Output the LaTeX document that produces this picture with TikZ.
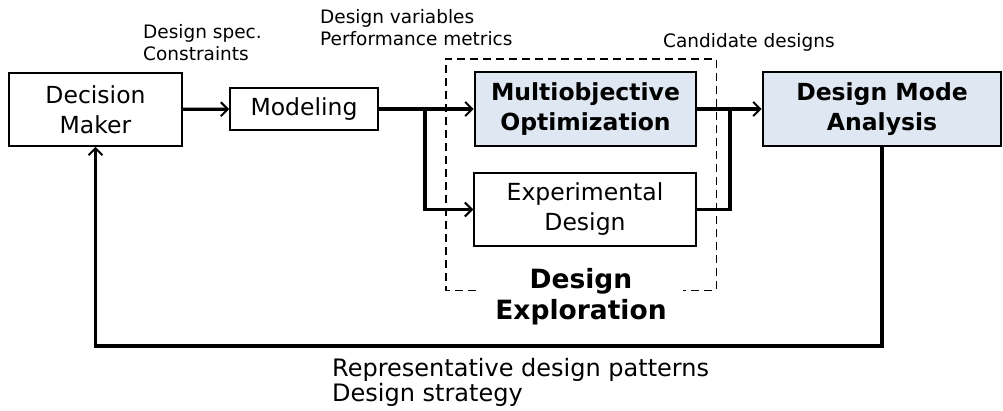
\documentclass[tikz,border=0pt]{standalone}
\usepackage{fontspec}
\setmainfont{DejaVu Sans}
\usetikzlibrary{arrows.meta}
\definecolor{boxblue}{RGB}{222,231,242}
\tikzset{
  box/.style={draw=black, line width=1.5pt, align=center, inner sep=0pt,
    font=\fontsize{23.5}{30}\selectfont},
  keybox/.style={box, fill=boxblue, line width=2.8pt,
    font=\bfseries\fontsize{23.5}{30}\selectfont},
  arr/.style={line width=3.2pt, -{Straight Barb[length=7pt,width=14pt,line width=2pt]}},
  ln/.style={line width=3.2pt},
  lbl/.style={align=left, anchor=base west, inner sep=0pt,
    font=\fontsize{18.5}{22}\selectfont},
}
\begin{document}
\begin{tikzpicture}[x=1pt,y=-1pt]
\useasboundingbox (0,0) rectangle (1003,410);
% boxes
\node[box, minimum width=173, minimum height=73] (dm) at (95.5,109.5) {Decision\\Maker};
\node[box, minimum width=148, minimum height=42] (mod) at (304,109) {Modeling};
\node[keybox, minimum width=221, minimum height=74] (mo) at (585.5,109) {Multiobjective\\Optimization};
\node[box, minimum width=222, minimum height=73] (ed) at (585,209.5) {Experimental\\Design};
\node[keybox, minimum width=238, minimum height=74] (dma) at (882,109) {Design Mode\\Analysis};
% dashed exploration frame
\node[minimum width=270, minimum height=231, inner sep=0pt] (dex) at (581,174.5) {};
\draw[line width=1.4pt, dash pattern=on 8pt off 5pt]
  ([xshift=30pt]dex.south west) -- (dex.south west) -- (dex.north west)
  -- (dex.north east) -- (dex.south east) -- ([xshift=-33pt]dex.south east);
\node[font=\bfseries\fontsize{26.5}{31}\selectfont, align=center, anchor=base, inner sep=0pt] (dext) at (581,319) {Design\\Exploration};
% labels
\node[lbl] (l1) at (143,60) {Design spec.\\Constraints};
\node[lbl] (l2) at (320,45) {Design variables\\Performance metrics};
\node[lbl] (l3) at (663,47) {Candidate designs};
\node[lbl, font=\fontsize{24}{25}\selectfont] (l4) at (332,401) {Representative design patterns\\Design strategy};
% connectors
\coordinate (j1) at (425,109);
\coordinate (j2) at (730,109);
\coordinate (fb) at (95.5,346);
\draw[arr] (dm) -- (mod);
\draw[arr] (mod) -- (mo);
\draw[arr] (j1) |- (ed.west);
\draw[arr] (mo) -- (dma);
\draw[ln] (ed.east) -| (j2);
\draw[arr] (dma.south) |- (fb) -- (dm.south);
\end{tikzpicture}
\end{document}
